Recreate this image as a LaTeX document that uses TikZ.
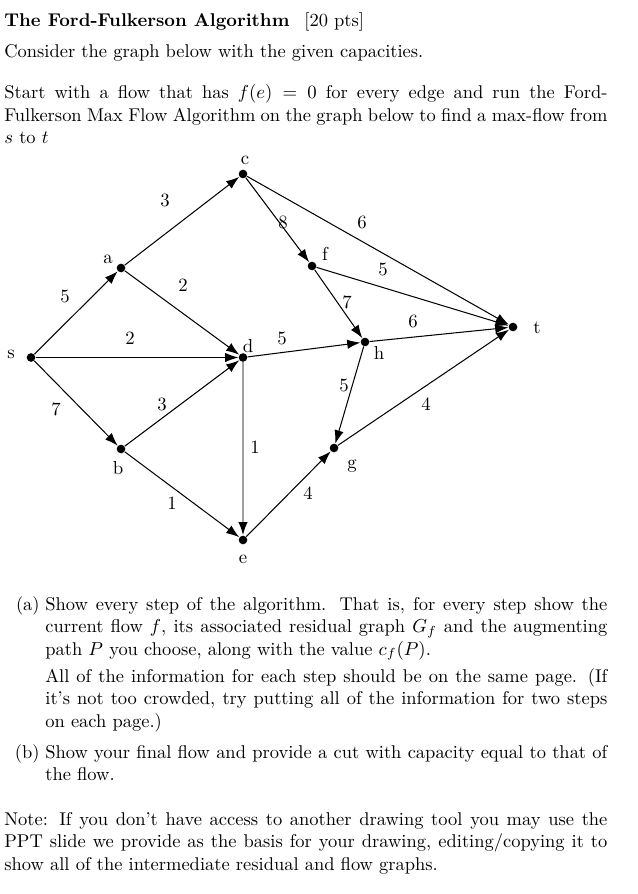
\documentclass[tikz,border=0pt]{standalone}
\usepackage{amsmath}
\usetikzlibrary{arrows.meta,positioning}

\tikzset{
    vtx/.style={circle, fill=black, inner sep=0pt, minimum size=4.6pt},
    vname/.style={font=\normalsize, inner sep=0pt},
    capLabel/.style={font=\normalsize, inner sep=0pt},
    flowArrow/.style={-{Latex[length=7pt,width=5pt]}, line width=0.55pt},
    para/.style={inner sep=0pt, anchor=base west, align=justify,
                 font=\fontsize{9.85pt}{12pt}\selectfont}
}

\begin{document}
\begin{tikzpicture}[x=0.5333pt, y=-0.5333pt]
\useasboundingbox (0,0) rectangle (637,894);

% header text
\node[para] (title) at (4,27) {\textbf{The Ford-Fulkerson Algorithm}\hspace{8pt}[20 pts]};
\node[para] (intro) at (4,58) {Consider the graph below with the given capacities.};
\node[para, text width=321.6pt] (task) at (4,99)
    {Start with a flow that has $f(e) = 0$ for every edge and run the Ford-Fulkerson Max Flow Algorithm on the graph below to find a max-flow from $s$ to $t$};

% vertices
\node[vtx] (s) at (31,357.5) {};
\node[vtx] (a) at (121,268) {};
\node[vtx] (b) at (121,449) {};
\node[vtx] (c) at (243,174) {};
\node[vtx] (d) at (243,357.5) {};
\node[vtx] (e) at (243,540) {};
\node[vtx] (f) at (312,266) {};
\node[vtx] (h) at (365,342) {};
\node[vtx] (g) at (334,448) {};
\node[vtx] (t) at (513,327) {};

\node[vname] (sName) at (11,354) {s};
\node[vname] (aName) at (108,259) {a};
\node[vname] (bName) at (118,468) {b};
\node[vname] (cName) at (245,160) {c};
\node[vname] (dName) at (248,346) {d};
\node[vname] (eName) at (243,559) {e};
\node[vname] (fName) at (325,254) {f};
\node[vname] (hName) at (379,353) {h};
\node[vname] (gName) at (352,466) {g};
\node[vname] (tName) at (537,328) {t};

% edges
\draw[flowArrow] (s) -- (a);
\draw[flowArrow] (s) -- (d);
\draw[flowArrow] (s) -- (b);
\draw[flowArrow] (a) -- (c);
\draw[flowArrow] (a) -- (d);
\draw[flowArrow] (b) -- (d);
\draw[flowArrow] (b) -- (e);
\draw[flowArrow, draw=gray!75, line width=1pt,
      -{Latex[length=7pt,width=5pt,color=black]}] (d) -- (e);
\draw[flowArrow] (c) -- (f);
\draw[flowArrow] (c) -- (t);
\draw[flowArrow] (d) -- (h);
\draw[flowArrow] (f) -- (h);
\draw[flowArrow] (f) -- (t);
\draw[flowArrow] (h) -- (t);
\draw[flowArrow] (h) -- (g);
\draw[flowArrow] (e) -- (g);
\draw[flowArrow] (g) -- (t);

% capacities
\node[capLabel] (cSA) at (65,296) {5};
\node[capLabel] (cAC) at (165,200) {3};
\node[capLabel] (cAD) at (183,285) {2};
\node[capLabel] (cSD) at (130,338) {2};
\node[capLabel] (cSB) at (56,409) {7};
\node[capLabel] (cBD) at (162,404) {3};
\node[capLabel] (cBE) at (172,503) {1};
\node[capLabel] (cDE) at (255,447) {1};
\node[capLabel] (cCF) at (283,222) {8};
\node[capLabel] (cCT) at (362,222) {6};
\node[capLabel] (cFT) at (383,269) {5};
\node[capLabel] (cFH) at (347,302) {7};
\node[capLabel] (cDH) at (282,338) {5};
\node[capLabel] (cHT) at (413,321) {6};
\node[capLabel] (cHG) at (344,385) {5};
\node[capLabel] (cEG) at (308,493) {4};
\node[capLabel] (cGT) at (426,404) {4};

% questions
\node[inner sep=0pt, anchor=base east, font=\fontsize{9.85pt}{12pt}\selectfont] (labA) at (40,610) {(a)};
\node[para, text width=299.7pt] (partA) at (45,610)
    {\setlength{\parskip}{2.4pt}Show every step of the algorithm. That is, for every step show the current flow $f$, its associated residual graph $G_f$ and the augmenting path $P$ you choose, along with the value $c_f(P)$.\par
    All of the information for each step should be on the same page. (If it's not too crowded, try putting all of the information for two steps on each page.)};
\node[inner sep=0pt, anchor=base east, font=\fontsize{9.85pt}{12pt}\selectfont] (labB) at (40,758) {(b)};
\node[para, text width=299.7pt] (partB) at (45,758)
    {Show your final flow and provide a cut with capacity equal to that of the flow.};
\node[para, text width=321.6pt] (note) at (4,825)
    {Note: If you don't have access to another drawing tool you may use the PPT slide we provide as the basis for your drawing, editing/copying it to show all of the intermediate residual and flow graphs.};
\end{tikzpicture}
\end{document}
